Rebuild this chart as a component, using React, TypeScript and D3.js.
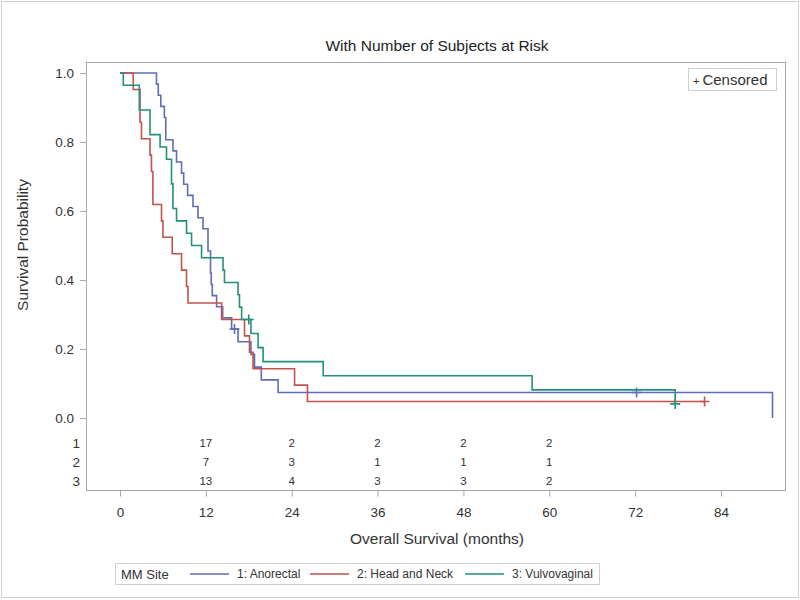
import React, { useEffect, useRef } from 'react';
import * as d3 from 'd3';

// survival times (months); died = 1 for an event, 0 for censored
const anorectalMonths = [
  5.1, 5.35, 5.7, 6.2, 6.4, 6.4, 7.4, 7.9, 8.6, 8.9, 9.45, 10.2, 10.9, 11.6,
  12.3, 12.3, 12.65, 12.65, 12.75, 12.9, 13.5, 14.35, 15.6, 16.0, 16.5, 18.3,
  18.8, 19.75, 22.1, 72.2, 91.2,
];
const anorectalDied = [
  1, 1, 1, 1, 1, 1, 1, 1, 1, 1, 1, 1, 1, 1,
  1, 1, 1, 1, 1, 1, 1, 1, 1, 0, 1, 1,
  1, 1, 1, 0, 1,
];
const headNeckMonths = [
  1.85, 2.8, 2.8, 3.0, 4.2, 4.4, 4.6, 4.6, 5.8, 6.0, 7.3, 8.6, 9.3, 9.5, 14.2,
  17.4, 18.1, 18.6, 24.4, 26.2, 81.7,
];
const headNeckDied = [
  1, 1, 1, 1, 1, 1, 1, 1, 1, 1, 1, 1, 1, 1, 1,
  1, 1, 1, 1, 1, 0,
];
const vulvoMonths = [
  0.46, 2.7, 2.7, 4.2, 4.2, 5.6, 6.5, 7.2, 7.2, 7.4, 7.4, 7.9, 9.3, 10.0, 11.4,
  14.4, 14.6, 16.5, 16.7, 17.0, 18.0, 18.3, 19.3, 20.0, 28.4, 57.6, 77.6, 77.6,
];
const vulvoDied = [
  1, 1, 1, 1, 1, 1, 1, 1, 1, 1, 1, 1, 1, 1, 1,
  1, 1, 1, 1, 1, 0, 1, 1, 1, 1, 1, 1, 0,
];

const groupLabels = ['1: Anorectal', '2: Head and Neck', '3: Vulvovaginal'];
const groupColors = ['#5e6db8', '#c2524a', '#22907a'];

// subjects at risk table
const riskMonths = [12, 24, 36, 48, 60];
const riskAnorectal = [17, 2, 2, 2, 2];
const riskHeadNeck = [7, 3, 1, 1, 1];
const riskVulvo = [13, 4, 3, 3, 2];

const xTicks = [0, 12, 24, 36, 48, 60, 72, 84];
const yTicks = [0, 0.2, 0.4, 0.6, 0.8, 1.0];

const font = "'Liberation Sans', Arial, sans-serif";

function kaplanMeier(months: number[], died: number[]) {
  const times = Array.from(new Set(months)).sort((a, b) => a - b);
  let atRisk = months.length;
  let s = 1;
  const steps = [{ t: 0, s: 1 }];
  const censored: { t: number; s: number }[] = [];
  times.forEach((t) => {
    const idx = months.map((m, i) => (m === t ? i : -1)).filter((i) => i >= 0);
    const d = idx.filter((i) => died[i] === 1).length;
    if (d > 0) {
      s *= 1 - d / atRisk;
      steps.push({ t, s });
    }
    if (idx.length - d > 0) censored.push({ t, s });
    atRisk -= idx.length;
  });
  const last = d3.max(months) as number;
  if (steps[steps.length - 1].t < last) steps.push({ t: last, s });
  return { steps, censored };
}

export default function App() {
  const svgRef = useRef<SVGSVGElement>(null);

  useEffect(() => {
    const svg = d3.select(svgRef.current).html(null);
    const frame = { left: 86, top: 62, right: 785, bottom: 490 };

    const x = d3.scaleLinear().domain([0, 84]).range([120, 721]);
    const y = d3.scaleLinear().domain([0, 1]).range([418, 73]);

    // outer border
    svg.append('rect')
      .attr('x', 1.5).attr('y', 1.5).attr('width', 797).attr('height', 596)
      .attr('fill', 'white').attr('stroke', '#cfcfcf');

    svg.append('text')
      .attr('x', 437).attr('y', 51)
      .attr('text-anchor', 'middle')
      .attr('font-size', 15.5).attr('fill', '#222')
      .text('With Number of Subjects at Risk');

    svg.append('rect')
      .attr('x', frame.left + 0.5).attr('y', frame.top + 0.5)
      .attr('width', frame.right - frame.left).attr('height', frame.bottom - frame.top)
      .attr('fill', 'none').attr('stroke', '#a8a8a8');

    const yAxis = svg.append('g')
      .attr('transform', `translate(${frame.left},0)`)
      .call(d3.axisLeft(y).tickValues(yTicks).tickFormat(d3.format('.1f')).tickSize(6).tickPadding(6));
    const xAxis = svg.append('g')
      .attr('transform', `translate(0,${frame.bottom + 0.5})`)
      .call(d3.axisBottom(x).tickValues(xTicks).tickSize(6).tickPadding(11));
    [yAxis, xAxis].forEach((g) => {
      g.select('.domain').remove();
      g.selectAll('line').attr('stroke', '#a8a8a8');
      g.selectAll('text').attr('font-family', font).attr('font-size', 13.5).attr('fill', '#333');
    });

    svg.append('text')
      .attr('transform', 'translate(28,245) rotate(-90)')
      .attr('text-anchor', 'middle')
      .attr('font-size', 15.5).attr('fill', '#333')
      .text('Survival Probability');
    svg.append('text')
      .attr('x', 437).attr('y', 544)
      .attr('text-anchor', 'middle')
      .attr('font-size', 15.5).attr('fill', '#333')
      .text('Overall Survival (months)');

    const groups = [
      kaplanMeier(anorectalMonths, anorectalDied),
      kaplanMeier(headNeckMonths, headNeckDied),
      kaplanMeier(vulvoMonths, vulvoDied),
    ];
    const line = d3.line<{ t: number; s: number }>()
      .x((d) => x(d.t)).y((d) => y(d.s))
      .curve(d3.curveStepAfter);

    groups.forEach((g, i) => {
      svg.append('path')
        .attr('d', line(g.steps))
        .attr('fill', 'none')
        .attr('stroke', groupColors[i])
        .attr('stroke-width', 1.6);
      svg.selectAll(null)
        .data(g.censored)
        .join('path')
        .attr('transform', (d) => `translate(${x(d.t)},${y(d.s)})`)
        .attr('d', 'M-5,0H5M0,-5V5')
        .attr('stroke', groupColors[i])
        .attr('stroke-width', 1.6);
    });

    // at risk table
    const riskRows = [riskAnorectal, riskHeadNeck, riskVulvo];
    const rowY = d3.scalePoint<number>().domain([0, 1, 2]).range([443, 481]);
    riskRows.forEach((row, i) => {
      svg.append('text')
        .attr('x', 80).attr('y', rowY(i)!).attr('dy', '0.35em')
        .attr('text-anchor', 'end')
        .attr('font-size', 13.5).attr('fill', '#333')
        .text(String(i + 1));
      svg.selectAll(null)
        .data(row)
        .join('text')
        .attr('x', (_, j) => x(riskMonths[j]))
        .attr('y', rowY(i)!).attr('dy', '0.35em')
        .attr('text-anchor', 'middle')
        .attr('font-size', 11.5).attr('fill', '#333')
        .text((d) => d);
    });

    // censored inset legend
    svg.append('rect')
      .attr('x', 688.5).attr('y', 68.5).attr('width', 88).attr('height', 22)
      .attr('fill', 'white').attr('stroke', '#cfcfcf');
    const cens = svg.append('text')
      .attr('x', 693).attr('y', 85)
      .attr('fill', '#333');
    cens.append('tspan').attr('font-size', 11).text('+');
    cens.append('tspan').attr('font-size', 15).attr('dx', 3).text('Censored');

    // bottom legend
    svg.append('rect')
      .attr('x', 115.5).attr('y', 563.5).attr('width', 484).attr('height', 21)
      .attr('fill', 'white').attr('stroke', '#cfcfcf');
    const legY = 574;
    svg.append('text')
      .attr('x', 121).attr('y', legY).attr('dy', '0.35em')
      .attr('font-size', 13).attr('fill', '#333')
      .text('MM Site');
    const legItems = [190, 310, 465];
    groupLabels.forEach((label, i) => {
      const lx = legItems[i];
      svg.append('line')
        .attr('x1', lx).attr('x2', lx + 39).attr('y1', legY).attr('y2', legY)
        .attr('stroke', groupColors[i]).attr('stroke-width', 1.6);
      svg.append('text')
        .attr('x', lx + 47).attr('y', legY).attr('dy', '0.35em')
        .attr('font-size', 12).attr('fill', '#333')
        .text(label);
    });
  }, []);

  return (
    <svg
      ref={svgRef}
      width={800}
      height={600}
      style={{ position: 'absolute', left: 0, top: 0, fontFamily: font }}
    />
  );
}
